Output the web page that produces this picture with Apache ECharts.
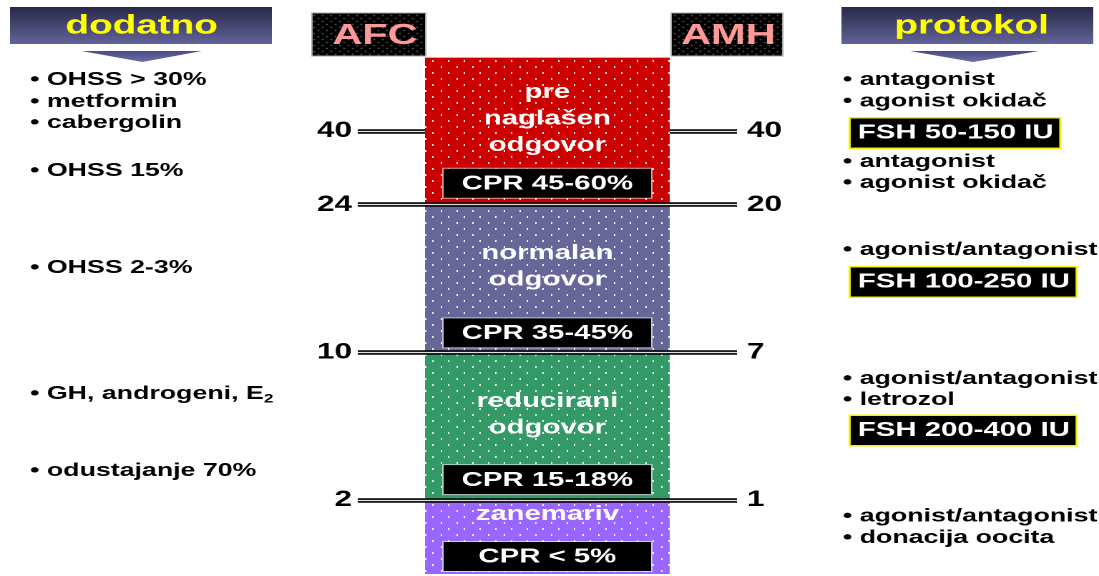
<!DOCTYPE html>
<html>
<head>
<meta charset="utf-8">
<script src="https://cdn.jsdelivr.net/npm/echarts@6/dist/echarts.min.js"></script>
<style>
  html, body { margin: 0; padding: 0; background: #fff; overflow: hidden; }
  /* the slide is laid out on a 4:3 stage (768 x 576) and stretched to the window width */
  #stage { width: 768px; height: 576px; transform: scaleX(1.4309896); transform-origin: 0 0; }
</style>
</head>
<body>
<div id="stage"></div>
<script>
// ---- response zones, listed bottom to top ----
const zoneNames = ['zanemariv', 'reducirani\nodgovor', 'normalan\nodgovor', 'pre\nnaglašen\nodgovor'];
const zoneSpan = [0.5, 1, 1, 1];               // height of each zone on the ordinal scale
const zoneCpr = ['CPR < 5%', 'CPR 15-18%', 'CPR 35-45%', 'CPR 45-60%'];
const zoneColors = ['#9966ff', '#339966', '#666699', '#cc0000'];

// ---- cut-offs on the shared ordinal scale ----
const cutPos = [0.5, 1.5, 2.5, 3];
const afcTicks = ['2', '10', '24', '40'];
const amhTicks = ['1', '7', '20', '40'];

// ---- side columns ----
const addOnText = ['OHSS > 30%', 'metformin', 'cabergolin', 'OHSS 15%', 'OHSS 2-3%', 'GH, androgeni, E|2', 'odustajanje 70%'];
const protocolText = ['antagonist', 'agonist okidač', 'antagonist', 'agonist okidač', 'agonist/antagonist',
                      'agonist/antagonist', 'letrozol', 'agonist/antagonist', 'donacija oocita'];
const fshDose = ['FSH 50-150 IU', 'FSH 100-250 IU', 'FSH 200-400 IU'];

const FONT = '"Liberation Sans", Arial, Helvetica, sans-serif';

const chart = echarts.init(document.getElementById('stage'), null, { devicePixelRatio: 2 });

// zone tops (cumulative), used to decide which cut-off lines run across the column
const zoneTop = [];
zoneSpan.reduce((acc, v, i) => (zoneTop[i] = acc + v), 0);
const scaleMax = zoneTop[zoneTop.length - 1];
const edgeCuts = cutPos.filter(p => zoneTop.slice(0, -1).includes(p));
const innerCuts = cutPos.filter(p => !edgeCuts.includes(p));

function tickFormatter(labels) {
  return v => {
    const i = cutPos.indexOf(v);
    return i >= 0 ? labels[i] : '';
  };
}

function doubleLine(pos) {
  return [
    { yAxis: pos, lineStyle: { color: '#000', width: 4.5, type: 'solid' } },
    { yAxis: pos, lineStyle: { color: '#e2e2e2', width: 1.2, type: 'solid' } }
  ];
}

const dotDecal = {
  symbol: 'rect',
  symbolSize: 1,
  color: 'rgba(255,255,255,0.92)',
  dashArrayX: [[1, 10], [0, 5, 1, 5]],
  dashArrayY: [2, 4]
};

const labelGap = [3, 6, 5, 7];

const series = zoneNames.map((name, i) => ({
  name: name,
  type: 'bar',
  stack: 'zones',
  barWidth: 171,
  data: [zoneSpan[i]],
  silent: true,
  itemStyle: { color: zoneColors[i], decal: dotDecal },
  label: {
    show: true,
    position: 'insideBottom',
    distance: labelGap[i],
    formatter: zoneCpr[i],
    color: '#fff',
    fontFamily: FONT,
    fontSize: 20.5,
    fontWeight: 'bold',
    lineHeight: 22,
    backgroundColor: '#000',
    borderColor: 'rgba(255,255,255,0.6)',
    borderWidth: 1,
    padding: [4, 4, 3, 4],
    width: 137,
    align: 'center'
  }
}));

// cut-offs inside a zone sit behind the column, zone edges are drawn across it
series[series.length - 1].markLine = {
  z: 1, silent: true, animation: false, symbol: ['none', 'none'],
  label: { show: false },
  data: innerCuts.flatMap(doubleLine)
};
series[0].markLine = {
  z: 6, silent: true, animation: false, symbol: ['none', 'none'],
  label: { show: false },
  data: edgeCuts.flatMap(doubleLine)
};

const axisCommon = {
  type: 'value', min: 0, max: scaleMax, interval: 0.5,
  axisLine: { show: false }, axisTick: { show: false }, splitLine: { show: false }
};

chart.setOption({
  animation: false,
  backgroundColor: '#fff',
  grid: { left: 250, right: 253, top: 57, bottom: 2 },
  xAxis: { type: 'category', data: [''], show: false },
  yAxis: [
    Object.assign({}, axisCommon, {
      position: 'left',
      axisLabel: { formatter: tickFormatter(afcTicks), color: '#000', fontFamily: FONT, fontSize: 22, fontWeight: 'bold', margin: 4 }
    }),
    Object.assign({}, axisCommon, {
      position: 'right',
      axisLabel: { formatter: tickFormatter(amhTicks), color: '#000', fontFamily: FONT, fontSize: 22, fontWeight: 'bold', margin: 7 }
    })
  ],
  series: series
});

// ---- decorations and text around the column ----
function dotPattern() {
  const c = document.createElement('canvas');
  c.width = 6; c.height = 6;
  const g = c.getContext('2d');
  g.fillStyle = '#000'; g.fillRect(0, 0, 6, 6);
  g.fillStyle = '#8c8c8c';
  g.fillRect(0, 0, 1, 1); g.fillRect(3, 3, 1, 1);
  return { image: c, repeat: 'repeat' };
}

const headGrad = { type: 'linear', x: 0, y: 0, x2: 0, y2: 1,
  colorStops: [{ offset: 0, color: '#29294a' }, { offset: 1, color: '#63639b' }] };
const arrowGrad = { type: 'linear', x: 0, y: 0, x2: 0, y2: 1,
  colorStops: [{ offset: 0, color: '#4c4c84' }, { offset: 1, color: '#6e6ea6' }] };

function header(x, w, arrow, text, tx) {
  return [
    { type: 'rect', shape: { x: x, y: 7, width: w, height: 37 }, style: { fill: headGrad } },
    { type: 'polygon', shape: { points: arrow }, style: { fill: arrowGrad } },
    { type: 'text', style: { text: text, x: tx, y: 26, align: 'center', verticalAlign: 'middle',
      fill: '#ffff00', fontFamily: FONT, fontSize: 27, fontWeight: 'bold' } }
  ];
}

function scaleBox(x, w, text, tx) {
  return [
    { type: 'rect', shape: { x: x, y: 13, width: w, height: 43 },
      style: { fill: dotPattern(), stroke: '#a8a8a8', lineWidth: 1 } },
    { type: 'text', style: { text: text, x: tx, y: 36, align: 'center', verticalAlign: 'middle',
      fill: '#ff9999', fontFamily: FONT, fontSize: 29, fontWeight: 'bold' } }
  ];
}

const bulletStyle = { fontFamily: FONT, fontSize: 18.7, fontWeight: 'bold', fill: '#000' };

function bullet(x, y, str) {
  if (str.includes('|')) {
    const [main, sub] = str.split('|');
    return { type: 'text', style: {
      text: '{b|• ' + main + '}{s|' + sub + '}', x: x, y: y, verticalAlign: 'middle',
      rich: {
        b: { fontFamily: FONT, fontSize: 18.7, fontWeight: 'bold', fill: '#000', lineHeight: 22, verticalAlign: 'middle' },
        s: { fontFamily: FONT, fontSize: 12, fontWeight: 'bold', fill: '#000', lineHeight: 12, verticalAlign: 'bottom' }
      } } };
  }
  return { type: 'text', style: Object.assign({ text: '• ' + str, x: x, y: y, verticalAlign: 'middle' }, bulletStyle) };
}

const addOnY = [80, 102, 123, 171, 268, 394, 471];
const protocolY = [80, 101.5, 162, 183, 250, 379, 400, 516.5, 538];
const fshY = [133, 282, 430.5];
const nameDrop = [0.095, 0.42, 0.42, 0.42];

const graphics = [];
graphics.push(...header(7, 183, [[57, 51], [141, 51], [99.5, 62]], 'dodatno', 99));
graphics.push(...header(588, 176, [[636, 51], [726, 51], [680, 62]], 'protokol', 679));
graphics.push(...scaleBox(218, 79.5, 'AFC', 262));
graphics.push(...scaleBox(469, 78, 'AMH', 509));

// thin light rim along the top of the column
const [colX, colTop] = chart.convertToPixel({ xAxisIndex: 0, yAxisIndex: 0 }, [0, scaleMax]);
graphics.push({ type: 'line', z: 10, shape: { x1: colX - 85.5, y1: colTop + 0.5, x2: colX + 85.5, y2: colTop + 0.5 },
  style: { stroke: '#f4a0a0', lineWidth: 1 } });

addOnText.forEach((t, i) => graphics.push(bullet(21, addOnY[i], t)));
protocolText.forEach((t, i) => graphics.push(bullet(589, protocolY[i], t)));
fshDose.forEach((t, i) => graphics.push({ type: 'text', style: {
  text: t, x: 594.5, y: fshY[i], verticalAlign: 'middle',
  fill: '#fff', fontFamily: FONT, fontSize: 20.5, fontWeight: 'bold', lineHeight: 22,
  backgroundColor: '#000', borderColor: '#f2f200', borderWidth: 1.5, padding: [4, 4, 3, 5]
} }));

zoneNames.forEach((name, i) => {
  const [cx, cy] = chart.convertToPixel({ xAxisIndex: 0, yAxisIndex: 0 }, [0, zoneTop[i] - nameDrop[i]]);
  graphics.push({ type: 'text', z: 10, style: {
    text: name, x: cx, y: cy, align: 'center', verticalAlign: 'middle',
    fill: '#fff', fontFamily: FONT, fontSize: 20.5, fontWeight: 'bold', lineHeight: 26.5
  } });
});

chart.setOption({ graphic: graphics });
</script>
</body>
</html>
